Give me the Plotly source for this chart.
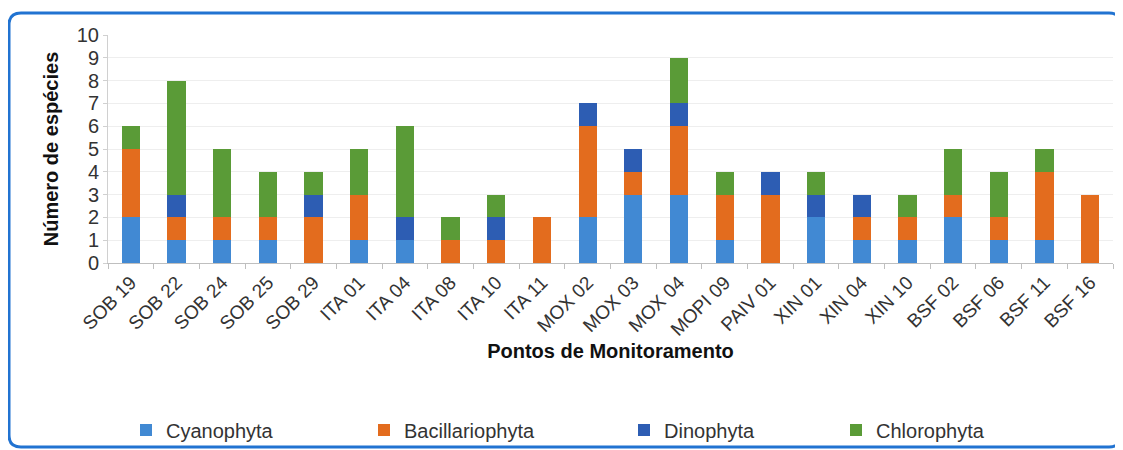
import plotly.graph_objects as go

# categories (monitoring points)
pontos = ["SOB 19", "SOB 22", "SOB 24", "SOB 25", "SOB 29", "ITA 01", "ITA 04",
          "ITA 08", "ITA 10", "ITA 11", "MOX 02", "MOX 03", "MOX 04", "MOPI 09",
          "PAIV 01", "XIN 01", "XIN 04", "XIN 10", "BSF 02", "BSF 06", "BSF 11", "BSF 16"]

# number of species per group
cyanophyta      = [2, 1, 1, 1, 0, 1, 1, 0, 0, 0, 2, 3, 3, 1, 0, 2, 1, 1, 2, 1, 1, 0]
bacillariophyta = [3, 1, 1, 1, 2, 2, 0, 1, 1, 2, 4, 1, 3, 2, 3, 0, 1, 1, 1, 1, 3, 3]
dinophyta       = [0, 1, 0, 0, 1, 0, 1, 0, 1, 0, 1, 1, 1, 0, 1, 1, 1, 0, 0, 0, 0, 0]
chlorophyta     = [1, 5, 3, 2, 1, 2, 4, 1, 1, 0, 0, 0, 2, 1, 0, 1, 0, 1, 2, 2, 1, 0]

y_ticks = list(range(0, 11))

# the page body adds an 8px offset, so figure coords = page coords - 8
# (figure is 8px smaller on each side so the page does not scroll)
W, H = 1115, 442
ML, MR, MT, MB = 100, 10, 27, 187
PW, PH = W - ML - MR, H - MT - MB
FONT = "Liberation Sans, Arial, sans-serif"


def px_x(px):
    return (px - ML) / PW


def px_y(py):
    return (H - MB - py) / PH


series = [
    ("Cyanophyta", cyanophyta, "#4189d3", 167),
    ("Bacillariophyta", bacillariophyta, "#e36c1e", 405),
    ("Dinophyta", dinophyta, "#2d5db3", 665),
    ("Chlorophyta", chlorophyta, "#5a9b37", 877),
]

fig = go.Figure()
legend_layout = {}
for i, (name, vals, color, tx) in enumerate(series):
    lg = "legend" if i == 0 else f"legend{i + 1}"
    fig.add_trace(go.Bar(x=pontos, y=vals, name=name, marker_color=color,
                         marker_line_width=0, legend=lg, showlegend=True))
    legend_layout[lg] = dict(
        x=px_x(tx - 49), y=px_y(422), xanchor="left", yanchor="middle",
        orientation="h", bgcolor="rgba(0,0,0,0)", itemwidth=30,
        font=dict(family=FONT, size=20, color="#333333"),
    )

# rounded blue frame around the chart
x0, x1, y0, y1, r = 1, 1113, 5, 439, 12
path = (f"M {px_x(x0 + r)},{px_y(y0)} L {px_x(x1 - r)},{px_y(y0)} "
        f"Q {px_x(x1)},{px_y(y0)} {px_x(x1)},{px_y(y0 + r)} "
        f"L {px_x(x1)},{px_y(y1 - r)} Q {px_x(x1)},{px_y(y1)} {px_x(x1 - r)},{px_y(y1)} "
        f"L {px_x(x0 + r)},{px_y(y1)} Q {px_x(x0)},{px_y(y1)} {px_x(x0)},{px_y(y1 - r)} "
        f"L {px_x(x0)},{px_y(y0 + r)} Q {px_x(x0)},{px_y(y0)} {px_x(x0 + r)},{px_y(y0)} Z")

fig.update_layout(
    width=W, height=H,
    margin=dict(l=ML, r=MR, t=MT, b=MB, autoexpand=False),
    showlegend=True,
    barmode="stack", bargap=0.6,
    paper_bgcolor="white", plot_bgcolor="white",
    font=dict(family=FONT, color="#222222"),
    shapes=[dict(type="path", path=path, xref="paper", yref="paper",
                 line=dict(color="#2173d1", width=3), fillcolor="rgba(0,0,0,0)", layer="below")],
    xaxis=dict(
        automargin=False,
        tickangle=-45, tickfont=dict(size=19, color="#333333"),
        showline=True, linecolor="#bfbfbf", linewidth=1,
        ticks="outside", tickson="boundaries", ticklen=5, tickcolor="#bfbfbf",
        title=dict(text="<b>Pontos de Monitoramento</b>", font=dict(size=20, color="#111111"),
                   standoff=0),
    ),
    yaxis=dict(
        automargin=False,
        range=[0, 10], tickvals=y_ticks, tickfont=dict(size=20, color="#333333"),
        showgrid=True, gridcolor="#eeeeee", zeroline=False,
        showline=True, linecolor="#d0d0d0", ticks="outside", ticklen=4, tickcolor="#d0d0d0",
        title=dict(text="<b>Número de espécies</b>", font=dict(size=20, color="#111111"),
                   standoff=12),
    ),
    **legend_layout,
)

fig.write_html("out.html")
